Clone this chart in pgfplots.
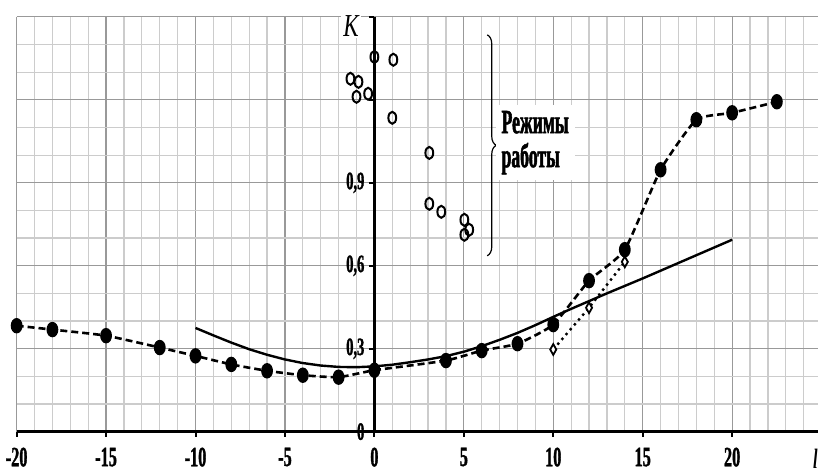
\documentclass[border=0pt]{standalone}
\usepackage{fontspec}
\usepackage{pgfplots}
\pgfplotsset{compat=1.18}
\usetikzlibrary{decorations.pathreplacing}
\setmainfont{Liberation Serif}
\newfontfamily\cond[FakeStretch=0.58, BoldFeatures={FakeBold=1.2}]{Liberation Serif}
\newfontfamily\condt[FakeStretch=0.52, BoldFeatures={FakeBold=1.5}]{Liberation Serif}
\newfontfamily\condk[FakeStretch=0.72]{Liberation Serif}

% dashed line with filled circles
\pgfplotstableread{
x y
-20 0.383
-18 0.369
-15 0.347
-12 0.304
-10 0.274
-8 0.243
-6 0.220
-4 0.204
-2 0.197
0 0.222
4 0.257
6 0.293
8 0.318
10 0.387
12 0.546
14 0.658
16 0.947
18 1.128
20 1.153
22.5 1.193
}\dashdata

% solid curve
\pgfplotstableread{
x y
-10 0.375
-9 0.348
-8 0.322
-7 0.298
-6 0.278
-5 0.261
-4 0.248
-3 0.239
-2 0.234
-1 0.233
0 0.236
1 0.242
2 0.251
3 0.261
4 0.273
5 0.289
6 0.309
7 0.332
8 0.357
9 0.385
10 0.415
11 0.444
12 0.472
13 0.500
14 0.527
15 0.554
16 0.582
17 0.610
18 0.638
19 0.666
20 0.694
}\fitdata

% operating modes (open circles)
\pgfplotstableread{
x y
0 1.355
1.06 1.345
-1.34 1.276
-0.89 1.265
-1.0 1.211
-0.35 1.222
1.0 1.135
3.07 1.008
3.07 0.824
3.74 0.795
5.03 0.766
5.3 0.730
5.03 0.712
}\modes

% dotted line with diamonds
\pgfplotstableread{
x y
10 0.297
12 0.448
14 0.614
}\diam

\begin{document}
\begin{tikzpicture}
\begin{axis}[
  x=8.95pt, y=138.35pt,
  xmin=-20, xmax=24.8, ymin=0, ymax=1.5,
  axis x line=bottom, axis y line=center,
  axis line style={line width=1.5pt, -},
  hide obscured x ticks=false, hide obscured y ticks=false,
  xtick={-20,-15,...,20},
  xticklabels={-20,-15,-10,-5,0,5,10,15,20},
  ytick={0,0.3,0.6,0.9,1.2,1.5},
  yticklabels={0,{0,3},{0,6},{0,9},,},
  minor xtick={-20,-19,...,24},
  minor ytick={0,0.1,...,1.5},
  grid=both,
  major grid style={gray!80, line width=0.6pt},
  minor grid style={gray!40, line width=0.6pt},
  tick align=outside,
  major tick length=2.5pt, minor tick length=0pt,
  tick style={black, line width=1pt},
  ticklabel style={font=\cond\bfseries\fontsize{14}{14}\selectfont},
  yticklabel style={font=\cond\bfseries\fontsize{12.5}{12.5}\selectfont, xshift=1pt},
  xticklabel style={yshift=-2pt},
  clip=false,
]
\addplot[black, line width=1.2pt] table[x=x,y=y]{\fitdata};
\addplot[black, line width=1.2pt, dotted, mark=diamond*, mark size=2.7pt,
  mark options={solid, fill=white, xscale=0.75, line width=0.9pt}] table[x=x,y=y]{\diam};
\addplot[black, line width=1.3pt, dash pattern=on 3.5pt off 2pt, smooth, tension=0.3,
  mark=*, mark size=3.2pt, mark options={solid, fill=black, xscale=0.72}] table[x=x,y=y]{\dashdata};
\addplot[only marks, black, mark=o, mark size=3pt,
  mark options={xscale=0.65, line width=1pt}] table[x=x,y=y]{\modes};
\draw[decorate, decoration={brace, amplitude=4.5pt}, line width=0.6pt]
  (axis cs:6.31,1.435) -- (axis cs:6.31,0.636);
\node[anchor=west, align=left, fill=white, inner sep=3pt,
  font=\condt\bfseries\fontsize{17}{17}\selectfont] at (axis cs:6.75,1.045) {Режимы\\работы};
\node[font=\condk\itshape\fontsize{16}{16}\selectfont, fill=white, inner sep=1pt]
  at (axis cs:-1.3,1.468) {K};
\node[anchor=west, font=\cond\bfseries\itshape\fontsize{14}{14}\selectfont, inner sep=0pt]
  at (axis cs:24.5,-0.098) {l};
\coordinate (bl) at (axis cs:-20.93,-0.152);
\coordinate (tr) at (axis cs:24.8,1.561);
\end{axis}
\pgfresetboundingbox
\path[use as bounding box] (bl) rectangle (tr);
\end{tikzpicture}
\end{document}
